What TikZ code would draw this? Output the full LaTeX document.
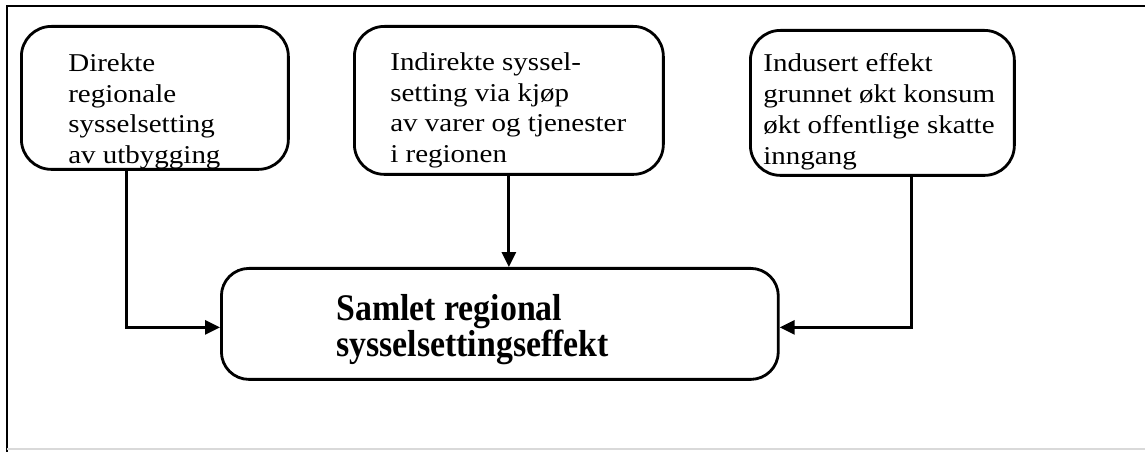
\documentclass[tikz,border=0pt]{standalone}
\usepackage{fontspec}
\setmainfont{Liberation Serif}[FakeStretch=1.13]
\newfontfamily\titlefont{Liberation Serif}[FakeStretch=0.90]
\usetikzlibrary{positioning,arrows.meta}
\tikzstyle{effectbox} = [draw=black, line width=1.6pt, rectangle, rounded corners=0.6cm, inner sep=0pt, anchor=north west]
\tikzstyle{totalbox} = [effectbox, rounded corners=0.55cm]
\tikzstyle{boxtext} = [inner sep=0pt, align=left, font=\fontsize{14.6}{17.6}\selectfont]
\tikzstyle{totaltext} = [inner sep=0pt, align=left, font=\titlefont\bfseries\fontsize{21.4}{20.4}\selectfont]
\tikzstyle{arrow} = [line width=1.6pt, -{Triangle[length=3mm,width=2.8mm]}]

\begin{document}
\begin{tikzpicture}[x=0.02cm, y=-0.02cm]
\useasboundingbox (0,0) rectangle (1145,452);
% frame
\draw[line width=1.3pt] (1145,6) -- (7,6) -- (7,452);
\draw[black!15, line width=0.8pt] (7,449) -- (1145,449);
% the three effects
\node[effectbox, minimum width=5.34cm, minimum height=2.86cm] (direct) at (20,25) {};
\node[effectbox, minimum width=6.18cm, minimum height=2.96cm] (indirect) at (353,25) {};
\node[effectbox, minimum width=5.28cm, minimum height=2.90cm] (induced) at (749,29) {};
\node[boxtext, below right=0.56cm and 0.96cm of direct.north west] (directtext) {Direkte\\regionale\\sysselsetting\\av utbygging};
\node[boxtext, below right=0.54cm and 0.74cm of indirect.north west] (indirecttext) {Indirekte syssel-\\setting via kjøp\\av varer og tjenester\\i regionen};
\node[boxtext, below right=0.48cm and 0.28cm of induced.north west] (inducedtext) {Indusert effekt\\grunnet økt konsum\\økt offentlige skatte\\inngang};
% total
\node[totalbox, minimum width=11.14cm, minimum height=2.22cm] (total) at (220,267) {};
\node[totaltext, below right=0.54cm and 2.32cm of total.north west] (totaltxt) {Samlet regional\\sysselsettingseffekt};
% connectors
\draw[arrow] ([xshift=-0.57cm]direct.south) |- ([yshift=-0.07cm]total.west);
\draw[arrow] (indirect.south) -- (indirect.south |- total.north);
\draw[arrow] ([xshift=0.58cm]induced.south) |- ([yshift=-0.07cm]total.east);
\end{tikzpicture}
\end{document}
